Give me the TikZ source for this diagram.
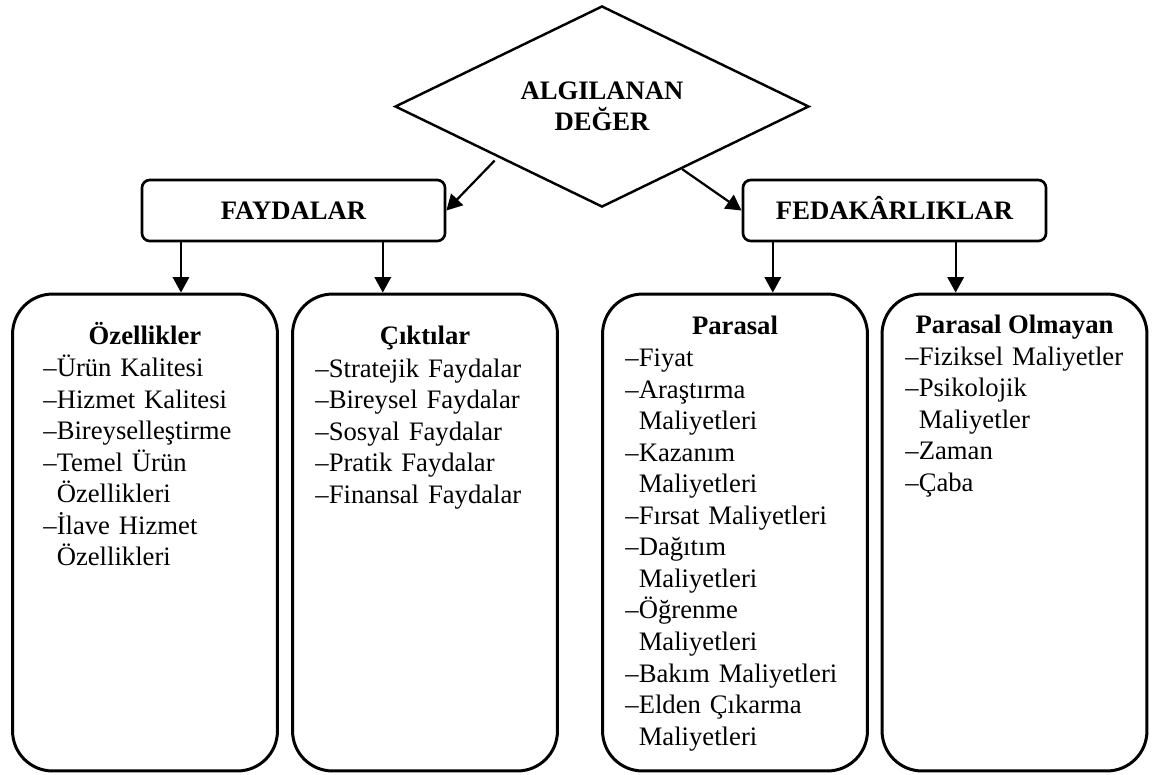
\documentclass[tikz,border=0pt]{standalone}
\usepackage{fontspec}
\setmainfont{Liberation Serif}
\usetikzlibrary{arrows.meta,positioning,calc,shapes.geometric}
\tikzset{
  vdia/.style={diamond, draw, line width=1.1pt, aspect=2.06, inner sep=0pt,
               minimum width=186.3pt, minimum height=90.5pt, align=center,
               font=\bfseries\fontsize{12}{14}\selectfont},
  hbox/.style={draw, line width=1.2pt, rounded corners=3.6pt,
               minimum width=136.4pt, minimum height=27.5pt,
               text height=8pt, text depth=0pt,
               font=\bfseries\fontsize{12}{14}\selectfont},
  pan/.style={draw, line width=1.35pt, rounded corners=18pt,
              minimum width=119.2pt, minimum height=214.6pt},
  ptit/.style={anchor=base, inner sep=0pt, font=\bfseries\fontsize{12}{14.2}\selectfont},
  plist/.style={anchor=base west, inner sep=0pt, text width=110pt, align=left,
                font=\fontsize{12}{14.2}\selectfont},
  arr/.style={-{Triangle[length=7pt,width=7.4pt]}, line width=1pt},
}

\begin{document}
\begin{tikzpicture}[x=0.45pt, y=-0.45pt]
    \useasboundingbox (0,0) rectangle (1152,774);
    % --- top level
    \node[vdia] (val) at (602,106.5) {ALGILANAN\\DEĞER};
    \node[hbox] (fay) at (293.5,210.5) {FAYDALAR};
    \node[hbox] (fed) at (894.5,210.5) {FEDAKÂRLIKLAR};
    % --- panels
    \node[pan] (ozel) at (145,532.5) {};
    \node[pan] (cikt) at (425,532.5) {};
    \node[pan] (psal) at (735,532.5) {};
    \node[pan] (pdis) at (1014.5,532.5) {};
    \node[ptit] (ozelT) at (145,344) {Özellikler};
    \node[ptit] (ciktT) at (425,344) {Çıktılar};
    \node[ptit] (psalT) at (735,334) {Parasal};
    \node[ptit] (pdisT) at (1014.5,333) {Parasal Olmayan};
    \node[plist] (ozelL) at (43,376.5) {–Ürün Kalitesi\\–Hizmet Kalitesi\\–Bireyselleştirme\\
      –Temel Ürün\\\hphantom{–}Özellikleri\\–İlave Hizmet\\\hphantom{–}Özellikleri};
    \node[plist] (ciktL) at (315,377) {–Stratejik Faydalar\\–Bireysel Faydalar\\
      –Sosyal Faydalar\\–Pratik Faydalar\\–Finansal Faydalar};
    \node[plist] (psalL) at (625,366.5) {–Fiyat\\–Araştırma\\\hphantom{–}Maliyetleri\\
      –Kazanım\\\hphantom{–}Maliyetleri\\–Fırsat Maliyetleri\\–Dağıtım\\\hphantom{–}Maliyetleri\\
      –Öğrenme\\\hphantom{–}Maliyetleri\\–Bakım Maliyetleri\\–Elden Çıkarma\\\hphantom{–}Maliyetleri};
    \node[plist] (pdisL) at (905,365) {–Fiziksel Maliyetler\\–Psikolojik\\\hphantom{–}Maliyetler\\
      –Zaman\\–Çaba};
    % --- connectors
    \draw[arr, shorten <=2pt] (val.-154) -- (fay.east);
    \draw[arr] (val.-38) -- (fed.west);
    \foreach \b/\t/\f in {fay/ozel/0.132, fay/cikt/0.792, fed/psal/0.102, fed/pdis/0.70}{
      \coordinate (s\t) at ($(\b.south west)!\f!(\b.south east)$);
      \draw[arr] (s\t) -- (s\t |- \t.north);
    }
\end{tikzpicture}
\end{document}
